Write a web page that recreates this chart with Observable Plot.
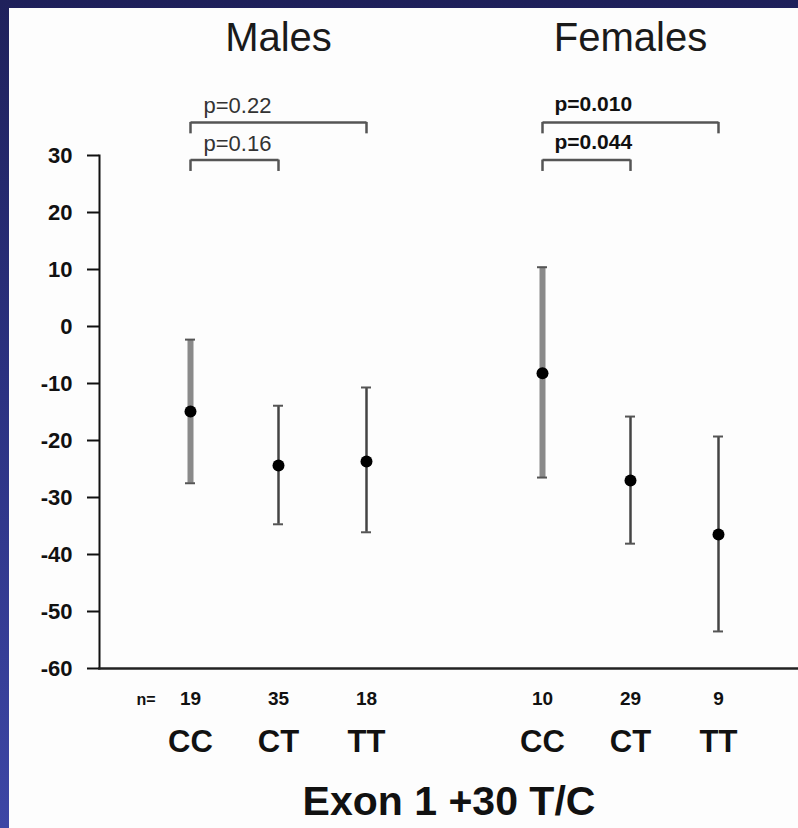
<!DOCTYPE html>
<html>
<head>
<meta charset="utf-8">
<script src="https://cdn.jsdelivr.net/npm/d3@7"></script>
<script src="https://cdn.jsdelivr.net/npm/@observablehq/plot@0.6"></script>
<style>
  html, body { margin: 0; padding: 0; }
  body { width: 798px; height: 828px; position: relative; overflow: hidden;
         background: linear-gradient(to bottom, #1f215b 0%, #2b3180 45%, #3d46a5 100%); }
  #panel { position: absolute; left: 9px; top: 8px; width: 789px; height: 820px; background: #fdfdfd; }
  #chart { position: absolute; left: 0; top: 0; }
  #chart svg { overflow: visible; background: transparent; }
</style>
</head>
<body>
<div id="panel"></div>
<div id="chart"></div>
<script>
// ---- data ----
const groups    = ["Males", "Males", "Males", "Females", "Females", "Females"];
const genotypes = ["CC", "CT", "TT", "CC", "CT", "TT"];
const nValues   = [19, 35, 18, 10, 29, 9];
const means     = [-14.9, -24.4, -23.7, -8.2, -27.0, -36.5];
const upper     = [-2.3, -13.9, -10.7, 10.4, -15.8, -19.3];
const lower     = [-27.5, -34.7, -36.1, -26.5, -38.1, -53.5];
const yTicks    = [30, 20, 10, 0, -10, -20, -30, -40, -50, -60];

// significance comparisons (level 1 = lower bracket, 2 = upper bracket)
const cmpGroup = ["Males", "Males", "Females", "Females"];
const cmpFrom  = ["CC", "CC", "CC", "CC"];
const cmpTo    = ["TT", "CT", "TT", "CT"];
const cmpLabel = ["p=0.22", "p=0.16", "p=0.010", "p=0.044"];
const cmpLevel = [2, 1, 2, 1];
const cmpBold  = [false, false, true, true];

const xTitle = "Exon 1 +30 T/C";

// ---- build tables ----
const slots = ["Males CC", "Males CT", "Males TT", "gap", "Females CC", "Females CT", "Females TT"];
const rows = groups.map((g, i) => ({
  key: g + " " + genotypes[i], group: g, genotype: genotypes[i],
  n: nValues[i], mean: means[i], hi: upper[i], lo: lower[i]
}));
const bracketY = {1: 29.2, 2: 35.8};
const bracketEndDrop = 2.0;
const cmps = cmpGroup.map((g, i) => ({
  from: g + " " + cmpFrom[i], to: g + " " + cmpTo[i],
  label: cmpLabel[i], bold: cmpBold[i],
  y: bracketY[cmpLevel[i]], yEnd: bracketY[cmpLevel[i]] - bracketEndDrop
}));
const titles = [{key: "Males CT", label: "Males"}, {key: "Females CT", label: "Females"}];

const font = "'Liberation Sans', Arial, Helvetica, sans-serif";
const isCC = d => d.genotype === "CC";

const plot = Plot.plot({
  width: 798,
  height: 828,
  marginLeft: 99,
  marginRight: 0,
  marginTop: 155,
  marginBottom: 160,
  style: {fontFamily: font, background: "transparent", color: "#111"},
  x: {type: "band", domain: slots, range: [185, 723], paddingInner: 1 - 10 / 88, paddingOuter: 0, axis: null},
  y: {domain: [-60, 30], axis: null},
  marks: [
    // axes
    Plot.axisY({ticks: yTicks, tickSize: 12, tickPadding: 15, tickFormat: d => String(d),
      fontSize: 22, fontWeight: "bold", strokeWidth: 2, stroke: "#111", fill: "#111",
      style: {letterSpacing: "-1.5px"}}),
    Plot.frame({anchor: "left", stroke: "#111", strokeWidth: 2}),
    Plot.frame({anchor: "bottom", stroke: "#222", strokeWidth: 2.5}),

    // error bars: CC groups (thick grey)
    Plot.ruleX(rows.filter(isCC), {x: "key", y1: "lo", y2: "hi", stroke: "#8a8a8a", strokeWidth: 6}),
    Plot.ruleX(rows.filter(d => !isCC(d)), {x: "key", y1: "lo", y2: "hi", stroke: "#444", strokeWidth: 2.5}),
    // caps
    Plot.tickY(rows, {x: "key", y: "hi", stroke: "#555", strokeWidth: 2}),
    Plot.tickY(rows, {x: "key", y: "lo", stroke: "#555", strokeWidth: 2}),
    // means
    Plot.dot(rows, {x: "key", y: "mean", r: 6, fill: "#000", stroke: "none"}),

    // significance brackets
    Plot.link(cmps, {x1: "from", x2: "to", y1: "y", y2: "y", stroke: "#555", strokeWidth: 2.5}),
    Plot.ruleX(cmps, {x: "from", y1: "y", y2: "yEnd", stroke: "#555", strokeWidth: 2.5}),
    Plot.ruleX(cmps, {x: "to", y1: "y", y2: "yEnd", stroke: "#555", strokeWidth: 2.5}),
    Plot.text(cmps.filter(d => !d.bold), {x: "from", y: "y", text: "label", textAnchor: "start",
      dx: 13, dy: -16, fontSize: 22, fill: "#333", style: {letterSpacing: "-0.3px"}}),
    Plot.text(cmps.filter(d => d.bold), {x: "from", y: "y", text: "label", textAnchor: "start",
      dx: 12, dy: -18, fontSize: 21, fontWeight: "bold", fill: "#111", style: {letterSpacing: "-0.6px"}}),

    // group titles
    Plot.text(titles, {x: "key", text: "label", frameAnchor: "top", lineAnchor: "middle", dy: -117, fontSize: 40, fill: "#1a1a1a"}),

    // n labels and genotype labels
    Plot.text(["n="], {frameAnchor: "bottom-left", lineAnchor: "middle", dx: 37, dy: 31, text: d => d, fontSize: 16, fontWeight: "bold", fill: "#111"}),
    Plot.text(rows, {x: "key", text: d => String(d.n), frameAnchor: "bottom", lineAnchor: "middle", dy: 30, fontSize: 19, fontWeight: "bold", fill: "#111"}),
    Plot.text(rows, {x: "key", text: "genotype", frameAnchor: "bottom", lineAnchor: "middle", dy: 74, fontSize: 31, fontWeight: "bold", fill: "#111"}),

    // x title
    Plot.text([xTitle], {frameAnchor: "bottom", lineAnchor: "middle", dy: 133, text: d => d, fontSize: 41, fontWeight: "bold", fill: "#111"})
  ]
});
document.getElementById("chart").appendChild(plot);
</script>
</body>
</html>
